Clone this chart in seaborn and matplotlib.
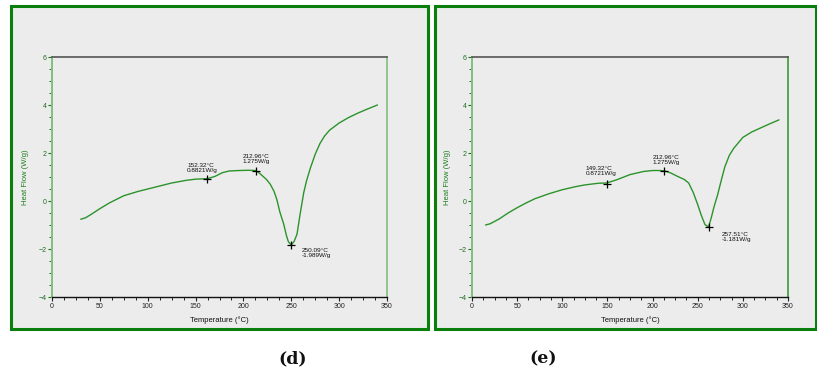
import matplotlib
matplotlib.use("Agg")
import matplotlib.pyplot as plt
from matplotlib.patches import Rectangle
from matplotlib.ticker import MultipleLocator
import seaborn as sns
import pandas as pd

sns.set_style("ticks")
plt.rcParams['font.family'] = ['Liberation Sans', 'DejaVu Sans']

# ---- data: panel (d) ----
d_temp = [30, 35, 40, 50, 60, 75, 90, 100, 115, 125, 140, 150, 162, 170, 178, 185, 195, 205,
          213, 217, 224, 228, 232, 235, 238, 242, 245, 247, 250, 253, 256, 259, 263, 266,
          270, 275, 280, 285, 290, 300, 310, 320, 330, 340]
d_flow = [-0.76, -0.70, -0.58, -0.32, -0.08, 0.22, 0.40, 0.50, 0.65, 0.75, 0.86, 0.91, 0.93,
          1.02, 1.18, 1.25, 1.27, 1.28, 1.27, 1.15, 0.90, 0.70, 0.40, 0.05, -0.45, -0.95,
          -1.45, -1.70, -1.83, -1.68, -1.38, -0.60, 0.35, 0.85, 1.38, 1.95, 2.40, 2.72,
          2.95, 3.25, 3.48, 3.67, 3.84, 4.00]
d_mark_t = [162, 213, 250]
d_mark_f = [0.92, 1.27, -1.83]
d_mark_lbl = ["152.32°C\n0.8821W/g", "212.96°C\n1.275W/g", "250.09°C\n-1.989W/g"]

# ---- data: panel (e) ----
e_temp = [15, 20, 30, 40, 50, 60, 70, 85, 100, 115, 125, 140, 149, 160, 175, 190, 200, 207,
          213, 220, 228, 235, 240, 245, 250, 254, 258, 262, 265, 268, 272, 276, 280, 285,
          290, 300, 310, 320, 330, 340]
e_flow = [-1.00, -0.95, -0.75, -0.50, -0.28, -0.08, 0.10, 0.30, 0.47, 0.60, 0.67, 0.74, 0.75,
          0.88, 1.10, 1.23, 1.27, 1.27, 1.26, 1.17, 1.02, 0.90, 0.75, 0.36, -0.15, -0.60,
          -0.98, -1.08, -0.70, -0.25, 0.25, 0.85, 1.42, 1.90, 2.20, 2.65, 2.88, 3.05, 3.22,
          3.38]
e_mark_t = [149, 213, 262.5]
e_mark_f = [0.70, 1.26, -1.07]
e_mark_lbl = ["149.32°C\n0.8721W/g", "212.96°C\n1.275W/g", "257.51°C\n-1.181W/g"]

panel_labels = ["(d)", "(e)"]
x_ticks = [0, 50, 100, 150, 200, 250, 300, 350]
y_ticks = [-4, -2, 0, 2, 4, 6]

W, H = 817, 378
fig = plt.figure(figsize=(W / 100, H / 100), dpi=100)
fig.patch.set_facecolor("white")

BOX_GREEN = "#0b7f0b"
BG = "#ececec"
LINE_GREEN = "#2b932b"
LABEL_GREEN = "#1e7d1e"


def fx(px):
    return px / W


def fy(py):
    return 1 - py / H


# panel boxes (drawn behind the axes)
for (x0, x1) in [(10.5, 427.5), (434.5, 815.5)]:
    fig.patches.append(Rectangle((fx(x0), fy(328.5)), fx(x1) - fx(x0), fy(5.5) - fy(328.5),
                                 transform=fig.transFigure, facecolor=BG,
                                 edgecolor=BOX_GREEN, linewidth=2.2, zorder=-5))

# annotation offsets in pixels (dx, dy, va)
d_offsets = [(-20, 6, 'bottom'), (-13, 7, 'bottom'), (10, -3, 'top')]
e_offsets = [(-21, 8, 'bottom'), (-12, 6, 'bottom'), (13, -5, 'top')]

panels = [
    (52, 335, d_temp, d_flow, d_mark_t, d_mark_f, d_mark_lbl, d_offsets, 293),
    (472, 316, e_temp, e_flow, e_mark_t, e_mark_f, e_mark_lbl, e_offsets, 543),
]

for i, (ax_l, ax_w, T, F, mt, mf, ml, offs, lblx) in enumerate(panels):
    ax = fig.add_axes([fx(ax_l), fy(297), ax_w / W, 240 / H])
    ax.set_facecolor(BG)
    df = pd.DataFrame({"Temperature": T, "Heat Flow": F})
    sns.lineplot(data=df, x="Temperature", y="Heat Flow", ax=ax, color=LINE_GREEN,
                 linewidth=1.0, sort=False)
    mdf = pd.DataFrame({"t": mt, "f": mf})
    sns.scatterplot(data=mdf, x="t", y="f", ax=ax, marker="+", color="black",
                    s=30, linewidth=0.9, zorder=5)
    for t, f, lab, (dx, dy, va) in zip(mt, mf, ml, offs):
        ax.annotate(lab, (t, f), xytext=(dx, dy), textcoords="offset pixels",
                    ha="left", va=va, fontsize=4.6, color="#111111", linespacing=1.0)

    ax.set_xlim(0, 350)
    ax.set_ylim(-4, 6)
    ax.set_xticks(x_ticks)
    ax.set_yticks(y_ticks)
    ax.xaxis.set_minor_locator(MultipleLocator(12.5))
    ax.yaxis.set_minor_locator(MultipleLocator(0.5))
    ax.tick_params(axis="x", which="major", direction="out", length=3, width=0.8,
                   colors="#222222", labelsize=5, pad=1)
    ax.tick_params(axis="x", which="minor", direction="out", length=2, width=0.7,
                   colors="#222222")
    ax.tick_params(axis="y", which="major", direction="out", length=3, width=0.8,
                   colors="#1e6e1e", labelsize=5, pad=1)
    ax.tick_params(axis="y", which="minor", direction="out", length=2, width=0.7,
                   colors="#1e6e1e")

    ax.spines["left"].set_color("#7fbf7f")
    ax.spines["left"].set_linewidth(1.4)
    ax.spines["right"].set_color("#3a9a3a" if i else "#7fbf7f")
    ax.spines["right"].set_linewidth(1.2)
    ax.spines["top"].set_color("#555555")
    ax.spines["top"].set_linewidth(1.2)
    ax.spines["bottom"].set_color("#111111")
    ax.spines["bottom"].set_linewidth(1.0)

    ax.set_xlabel("Temperature (°C)", fontsize=5.5, color="#111111")
    ax.set_ylabel("Heat Flow (W/g)", fontsize=5.5, color=LABEL_GREEN)
    ax.xaxis.set_label_coords(0.5, (297 - 316) / 240)
    ax.yaxis.set_label_coords(-0.068, 0.5)

    fig.text(fx(lblx), fy(359), panel_labels[i], ha="center", va="center",
             fontsize=12.5, fontweight="bold", family=["DejaVu Serif"], color="#111111")

fig.savefig("out.png", dpi=100, facecolor="white")
